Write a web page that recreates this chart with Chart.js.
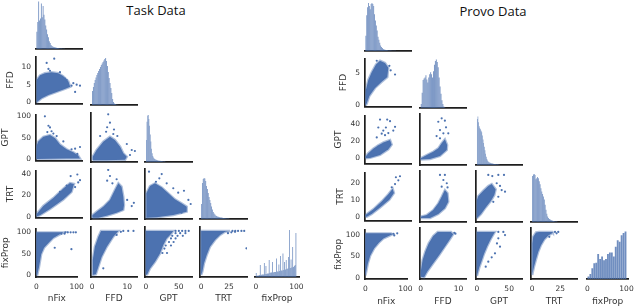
<!DOCTYPE html>
<html><head><meta charset="utf-8">
<script src="https://cdn.jsdelivr.net/npm/chart.js@4.4.1/dist/chart.umd.min.js"></script>
<style>
html,body{margin:0;padding:0;background:#fff;width:640px;height:307px;overflow:hidden;position:relative}
canvas{position:absolute}
.ttl{position:absolute;font-family:"Open Sans",sans-serif;font-size:13px;color:#111;white-space:nowrap;transform:translateX(-50%)}
</style></head><body>
<div class="ttl" style="left:156px;top:1px">Task Data</div>
<div class="ttl" style="left:493px;top:2px">Provo Data</div>
<script>
// ---------- variables & tick labels ----------
const VARS = ['nFix', 'FFD', 'GPT', 'TRT', 'fixProp'];
const ticksNFix = [0, 100];
const ticksFFDx = [0, 10];
const ticksGPTx = [0, 50];
const ticksTRTx = [0, 25];
const ticksFixPropX = [0, 100];
const taskTicksFFDy = [0, 5, 10];
const taskTicksGPTy = [0, 50, 100];
const taskTicksTRTy = [0, 20, 40];
const taskTicksFixPropY = [0, 50, 100];
const provoTicksFFDy = [0, 5];
const provoTicksGPTy = [0, 20, 40];
const provoTicksTRTy = [0, 10, 20];
const provoTicksFixPropY = [0, 50, 100];

// ---------- Task data: diagonal histograms (bin centre, height) ----------
const taskHistNFixX = [1,3,5,7,9,11,13,15,17,19,21,23,25,27,29,31,33,35,37,39,41,43,45,47,49,51,53,55,57,59,61,63];
const taskHistNFixY = [35,55,97,58,62,93,65,88,70,60,48,40,30,24,16,12,8,6,5,4,3.5,3,2.5,2,1.8,1.5,1.2,1,0.8,0.6,0.5,0.4];
const taskHistFFDX = [0.125,0.375,0.625,0.875,1.125,1.375,1.625,1.875,2.125,2.375,2.625,2.875,3.125,3.375,3.625,3.875,4.125,4.375,4.625,4.875,5.125,5.375,5.625,5.875,6.125,6.375,6.625,6.875,7.125,7.375];
const taskHistFFDY = [28,36,44,50,55,60,64,68,72,76,80,83,86,89,92,94,88,78,66,54,44,34,24,12,6,3,2,1,0.6,0.3];
const taskHistGPTX = [0.5,1.5,2.5,3.5,4.5,5.5,6.5,7.5,8.5,9.5,10.5,11.5,12.5,13.5,14.5,15.5,16.5,17.5,18.5,19.5,20.5,21.5,22.5,23.5,24.5,25.5,26.5,27.5,28.5,29.5];
const taskHistGPTY = [45,82,95,96,88,74,56,42,27,18,12,9,7,6,5,4.5,4,3.5,3,2.8,2.5,2.3,2,1.8,1.6,1.4,1.2,1,0.8,0.6];
const taskHistTRTX = [0.375,1.125,1.875,2.625,3.375,4.125,4.875,5.625,6.375,7.125,7.875,8.625,9.375,10.125,10.875,11.625,12.375,13.125,13.875,14.625,15.375,16.125,16.875,17.625,18.375,19.125,19.875,20.625,21.375,22.125,22.875,23.625,24.375,25.125];
const taskHistTRTY = [30,72,80,82,81,76,66,60,52,44,38,32,25,19,14,11,9,7,6,5,4.5,4,3.6,3.2,2.8,2.4,2,1.8,1.6,1.4,1.2,1,0.8,0.6];
const taskHistFixPropX = [1,3,5,7,9,11,13,15,17,19,21,23,25,27,29,31,33,35,37,39,41,43,45,47,49,51,53,55,57,59,61,63,65,67,69,71,73,75,77,79,81,83,85,87,89,91,93,95,97,99];
const taskHistFixPropY = [8,2,3,3,4,24,4,5,5,5,28,6,22,6,7,7,34,8,9,9,30,9,10,10,10,37,11,11,25,12,42,13,13,47,14,30,15,34,16,17,40,94,18,35,19,60,20,22,24,88];

// ---------- Task data: scatter clouds (outline of dense cloud) + sparse points ----------
const taskCloudFFDvNFix = [[0,0],[0.5,6.3],[8,7.6],[19,8.2],[34,8.5],[49,8.2],[60,7.4],[72,5.9],[76,4.4],[64,3.8],[45.5,2.95],[27,2.1],[12,1.2],[2,0.2],[0,0]];
const taskOutFFDvNFix = [[40,12.3],[23,11.1],[27,9.4],[30.5,8.9],[53,8.5],[68,6.3],[79,4.7],[90.5,5],[98,4.7],[87,2.95],[83,5.4],[64,6.7]];
const taskCloudGPTvNFix = [[0,0],[0,30],[4,41],[15.5,52],[30.5,56],[42,48.5],[53,34],[68,22.7],[83,15.5],[94,8],[98,1],[68,1],[30,0.5],[0,0]];
const taskOutGPTvNFix = [[19,100],[27,78],[30.5,74],[34,65],[38,59.6],[24.5,63],[79,22.7],[87,24],[98,28],[92,11.7],[72,11.7],[83,6.6],[60.5,41],[45.5,53.6]];
const taskCloudGPTvFFD = [[0.2,0],[0.2,8],[1.3,22.7],[3.2,41],[5.1,52],[6.5,44.8],[8,30],[8.9,15.5],[9.9,8],[9.4,1],[4.2,0],[0.2,0]];
const taskOutGPTvFFD = [[4.6,101.5],[5.1,83],[4.3,73],[4,63],[6.25,68],[6.05,58],[9.9,36],[11.3,22.7],[12.2,20.5],[10.8,11.7],[7.2,53.6],[2.3,53.6]];
const taskCloudTRTvNFix = [[0,0],[0.5,2.5],[15.4,10],[38,17.5],[60.5,26.4],[75.5,31.7],[84.5,30.8],[79,23.3],[60.5,16],[30.5,7.1],[8,1.2],[0,0]];
const taskOutTRTvNFix = [[77,38.2],[92,39.7],[98,34.4],[94,32.2],[68,29.3],[53,23.3],[87,27.8]];
const taskCloudTRTvFFD = [[0.1,0.2],[0.1,2.5],[1.3,5.6],[3.2,10],[5.1,16],[6.5,24.8],[7.5,30.8],[8.4,27.8],[8.9,18.9],[9.1,11.5],[8.9,7.1],[7,4.7],[4.2,2],[1.8,0.3],[0.1,0.2]];
const taskOutTRTvFFD = [[4.6,42.6],[5.1,37.3],[4.3,33.1],[5.8,30.8],[10,16],[11.3,10.6],[11.9,13.5],[7,34.4]];
const taskCloudTRTvGPT = [[1,0.3],[0.5,22],[6.1,28.3],[13.7,30.8],[23.9,27.2],[34,21.9],[44,16.6],[54,13],[62,10],[62,5.6],[41.5,2.7],[16.3,0.6],[1,0.3]];
const taskOutTRTvGPT = [[4.6,41.1],[23.9,39],[20.3,35.2],[15.2,32.2],[41.5,26.4],[49,22.5],[57.8,24.2],[64.5,16],[68,12.4],[54,4.7],[31.5,30.8]];
const taskCloudFixPropvNFix = [[0,0],[0,100],[56.8,100],[68,100],[57,94.7],[42,87],[30.5,75.6],[19,64],[12,49],[6.5,19],[2,0],[0,0]];
const taskOutFixPropvNFix = [[72,100],[78,100],[85,100],[92,100],[98,100],[45.5,64],[87,60.7],[62,97],[70,97]];
const taskCloudFixPropvFFD = [[0,0],[0.2,34],[0.8,64],[1.8,87],[2.55,100],[7.5,100],[6.05,87],[4.2,64],[2.75,41.5],[1.8,19],[1.1,2],[0,0]];
const taskOutFixPropvFFD = [[8.9,100],[10.3,100],[11.8,100],[3.2,15.3],[7,91],[8.2,98]];
const taskCloudFixPropvGPT = [[0,0],[0,100],[41.5,100],[39,94.7],[31.5,83],[26.3,68],[21.3,49],[13.7,30],[6.1,15],[2,2],[0,0]];
const taskOutFixPropvGPT = [[45,100],[50,100],[55,100],[60,100],[65,100],[45,95],[52,95],[60,95],[40,89],[48,89],[56,89],[38,83],[45,83],[35,75],[42,75],[30,67],[38,67],[28,60],[25,50],[32,50]];
const taskCloudFixPropvTRT = [[0,0],[0,100],[25.8,100],[21.4,98],[16.9,91],[12.4,79.5],[7.9,64],[5,45.5],[2.6,26.6],[1.1,7.5],[0,0]];
const taskOutFixPropvTRT = [[28,100],[30.5,100],[33,100],[36,100],[38.5,100],[40.5,60.7],[30.3,98],[24,95],[27,97]];

// ---------- Provo data: diagonal histograms ----------
const provoHistNFixX = [1,3,5,7,9,11,13,15,17,19,21,23,25,27,29,31,33,35,37,39,41,43,45,47,49,51,53,55,57,59,61,63,65,67,69];
const provoHistNFixY = [30,70,86,94,88,82,92,94,92,88,72,60,50,40,28,22,16,11,8,6,4,3,2.5,2,2,1.5,1.2,1,1,0.8,0.6,0.5,0.4,0.3,0.3];
const provoHistFFDX = [0.125,0.375,0.625,0.875,1.125,1.375,1.625,1.875,2.125,2.375,2.625,2.875,3.125,3.375,3.625,3.875,4.125,4.375,4.625,4.875,5.125,5.375,5.625,5.875,6.125,6.375];
const provoHistFFDY = [8,30,55,58,60,64,56,50,60,66,70,66,60,72,85,92,95,90,80,60,42,28,15,8,3,1];
const provoHistGPTX = [0.5,1.5,2.5,3.5,4.5,5.5,6.5,7.5,8.5,9.5,10.5,11.5,12.5,13.5,14.5,15.5,16.5,17.5,18.5,19.5,20.5,21.5,22.5,23.5,24.5,25.5,26.5,27.5,28.5,29.5,30.5,31.5,32.5,33.5,34.5];
const provoHistGPTY = [90,95,84,76,72,70,67,64,58,50,43,36,29,22,16,12,9,7,5.5,4.8,4.2,3.7,3.2,3,2.7,2.4,2.2,2,1.8,1.6,1.5,1.4,1.3,1.2,1];
const provoHistTRTX = [0.375,1.125,1.875,2.625,3.375,4.125,4.875,5.625,6.375,7.125,7.875,8.625,9.375,10.125,10.875,11.625,12.375,13.125,13.875,14.625,15.375,16.125,16.875,17.625,18.375,19.125,19.875,20.625,21.375,22.125];
const provoHistTRTY = [90,93,94,92,84,86,88,86,80,74,66,60,55,50,44,34,24,16,11,8,6,5,4,3,2.5,2,1.5,1.2,1,0.8];
const provoHistFixPropX = [2.5,7.5,12.5,17.5,22.5,27.5,32.5,37.5,42.5,47.5,52.5,57.5,62.5,67.5,72.5,77.5,82.5,87.5,92.5,97.5];
const provoHistFixPropY = [5,10,21,31,32,49,39,44,37,39,49,52,52,44,63,76,73,86,90,93];

// ---------- Provo data: scatter clouds + sparse points ----------
const provoCloudFFDvNFix = [[0,0],[0,1],[1.3,2.5],[6.6,4],[14.4,5.2],[24.3,6.4],[33.5,7],[45,6.65],[52.6,5.9],[50.3,4.45],[37.4,3.7],[22,2.75],[9,1.5],[3,0.3],[0,0]];
const provoOutFFDvNFix = [[26,7],[55,6.2],[68,4.85],[47,5.4],[58,5.5]];
const provoCloudGPTvNFix = [[0,0],[0,2],[6.6,6.1],[18,11.2],[29.6,15.2],[42.7,18.9],[56.5,21.4],[60.4,16],[52.6,10.5],[33.5,3.9],[10.5,0.5],[0,0]];
const provoOutGPTvNFix = [[29.6,36],[33.5,45.3],[50,45.3],[56.5,43.4],[41,32.4],[64,32.4],[45,27],[52.6,29.5],[37.4,28.8],[68,36.8],[26,24.4],[47,36]];
const provoCloudGPTvFFD = [[0,0],[0,1.5],[1.6,5],[3.3,8.6],[4.65,12.3],[5.55,17.8],[6.4,22.2],[7,16],[6.9,10.5],[5.1,3.9],[2.45,0.5],[0,0]];
const provoOutGPTvFFD = [[4.65,41.5],[5.55,45.3],[6.4,42.7],[5.1,32.4],[6,28.8],[4.2,25.8],[7.3,28.8],[5.1,23.3],[6.7,35.4]];
const provoCloudTRTvNFix = [[0,0],[0,1],[18,4.4],[37.4,9],[52.6,13.3],[62.6,16.5],[65.6,14],[54.9,10],[33.5,5.4],[14.4,1.65],[3,0],[0,0]];
const provoOutTRTvNFix = [[68,19.3],[75.6,21.5],[79.4,23.9],[70,23.3],[60.4,17.4]];
const provoCloudTRTvFFD = [[0,0],[0.1,0.8],[1.6,1.65],[3.3,4.4],[4.65,8.15],[5.55,11.8],[6.4,15.5],[7.1,13.7],[7.3,9],[6.4,5.4],[4.65,2.2],[2.45,0],[0,0]];
const provoOutTRTvFFD = [[5.1,23.9],[6.4,23.9],[6,21.1],[6.9,19.3],[5.55,17.4],[7.1,17]];
const provoCloudTRTvGPT = [[0,0],[0,10],[2.1,12.2],[9.9,15.2],[17.6,17.8],[22.9,18.9],[29.1,15.9],[27,12.8],[21.8,9.6],[13.6,5.9],[6.3,2.2],[0.2,0],[0,0]];
const provoOutTRTvGPT = [[17.6,23.9],[23.8,23.3],[33.2,23.9],[42,23.9],[30.7,19.3],[38.4,15.5],[43.6,14.6],[33.2,11.8],[25.4,9],[35.8,17.8]];
const provoCloudFixPropvNFix = [[0,5],[0,104],[64,104],[68,102],[56.5,97],[45,92],[33.5,82],[22,69],[12,51.6],[6,32.7],[2,13.6],[0,5]];
const provoOutFixPropvNFix = [[79.4,104],[72,99],[70,103]];
const provoCloudFixPropvFFD = [[0,2],[0,13.6],[0.5,40],[1.2,59],[2.1,78],[3.3,95],[4.5,104],[8,104],[8.6,99],[7.6,85.7],[6.4,70.5],[4.9,51.6],[3.3,32.7],[1.7,13.6],[0.9,0.9],[0,2]];
const provoOutFixPropvFFD = [[8.9,102],[9.2,100]];
const provoCloudFixPropvGPT = [[0,4],[0,104],[28,104],[26,99.4],[20.7,85.7],[15.6,70.5],[10.9,53.9],[7.4,38.6],[3.7,23.6],[1.1,10],[0,4]];
const provoOutFixPropvGPT = [[33.2,104],[41,104],[43.6,97],[31.1,78],[35.8,70.5],[28,55.5],[22.9,46.4],[33.2,89.6],[17.6,36.4],[13.6,25]];
const provoCloudFixPropvTRT = [[0.2,6],[0.2,78],[1,93],[3.5,103],[6.1,104],[18,104],[18.6,102],[14.4,96],[10.9,87],[7.9,74],[5.5,59],[3.5,41.8],[1.7,25],[0.5,11.4],[0.2,6]];
const provoOutFixPropvTRT = [[20.4,104],[23.3,104],[21.8,101],[15.3,93]];

// ---------- layout / style ----------
const FONT = 'DejaVu Sans';
Chart.defaults.font.family = FONT;
const BLUE = '#4c72b0', FRINGE = 'rgba(76,114,176,0.45)', HIST = 'rgba(76,114,176,0.8)', SPINE = '#1e1e1e', TXT = '#333333';

const GRIDS = [
  {
    L: [36, 91, 145, 200, 255], W: [46, 46, 47, 47, 47],
    T: [0, 55, 113, 169, 227], H: [49, 50, 49, 50, 50],
    yw: [0, 31, 36, 31, 36], xh: 27,
    xr: {nFix: [-1, 102.5], FFD: [-0.3, 12.8], GPT: [-1.5, 70], TRT: [-1, 41], fixProp: [-2, 107]},
    yr: {FFD: [-0.3, 12.9], GPT: [-3.75, 104.4], TRT: [-0.9, 43.5], fixProp: [-4.5, 109]},
    xt: {nFix: ticksNFix, FFD: ticksFFDx, GPT: ticksGPTx, TRT: ticksTRTx, fixProp: ticksFixPropX},
    yt: {FFD: taskTicksFFDy, GPT: taskTicksGPTy, TRT: taskTicksTRTy, fixProp: taskTicksFixPropY},
    hist: {nFix: [taskHistNFixX, taskHistNFixY], FFD: [taskHistFFDX, taskHistFFDY], GPT: [taskHistGPTX, taskHistGPTY],
           TRT: [taskHistTRTX, taskHistTRTY], fixProp: [taskHistFixPropX, taskHistFixPropY]},
    clouds: {
      'FFD|nFix': [taskCloudFFDvNFix, taskOutFFDvNFix],
      'GPT|nFix': [taskCloudGPTvNFix, taskOutGPTvNFix], 'GPT|FFD': [taskCloudGPTvFFD, taskOutGPTvFFD],
      'TRT|nFix': [taskCloudTRTvNFix, taskOutTRTvNFix], 'TRT|FFD': [taskCloudTRTvFFD, taskOutTRTvFFD], 'TRT|GPT': [taskCloudTRTvGPT, taskOutTRTvGPT],
      'fixProp|nFix': [taskCloudFixPropvNFix, taskOutFixPropvNFix], 'fixProp|FFD': [taskCloudFixPropvFFD, taskOutFixPropvFFD],
      'fixProp|GPT': [taskCloudFixPropvGPT, taskOutFixPropvGPT], 'fixProp|TRT': [taskCloudFixPropvTRT, taskOutFixPropvTRT]
    }
  },
  {
    L: [365, 420, 476, 531, 587], W: [46, 46, 46, 46, 45],
    T: [0, 57, 114, 171, 228], H: [51, 51, 51, 51, 51],
    yw: [0, 27, 32, 30, 32], xh: 28,
    xr: {nFix: [-1, 104.7], FFD: [-0.2, 12], GPT: [-1.5, 70], TRT: [-1, 40], fixProp: [-1, 104.6]},
    yr: {FFD: [-0.15, 7.35], GPT: [-6, 50], TRT: [-2.2, 26.1], fixProp: [-3, 113]},
    xt: {nFix: ticksNFix, FFD: ticksFFDx, GPT: ticksGPTx, TRT: ticksTRTx, fixProp: ticksFixPropX},
    yt: {FFD: provoTicksFFDy, GPT: provoTicksGPTy, TRT: provoTicksTRTy, fixProp: provoTicksFixPropY},
    hist: {nFix: [provoHistNFixX, provoHistNFixY], FFD: [provoHistFFDX, provoHistFFDY], GPT: [provoHistGPTX, provoHistGPTY],
           TRT: [provoHistTRTX, provoHistTRTY], fixProp: [provoHistFixPropX, provoHistFixPropY]},
    clouds: {
      'FFD|nFix': [provoCloudFFDvNFix, provoOutFFDvNFix],
      'GPT|nFix': [provoCloudGPTvNFix, provoOutGPTvNFix], 'GPT|FFD': [provoCloudGPTvFFD, provoOutGPTvFFD],
      'TRT|nFix': [provoCloudTRTvNFix, provoOutTRTvNFix], 'TRT|FFD': [provoCloudTRTvFFD, provoOutTRTvFFD], 'TRT|GPT': [provoCloudTRTvGPT, provoOutTRTvGPT],
      'fixProp|nFix': [provoCloudFixPropvNFix, provoOutFixPropvNFix], 'fixProp|FFD': [provoCloudFixPropvFFD, provoOutFixPropvFFD],
      'fixProp|GPT': [provoCloudFixPropvGPT, provoOutFixPropvGPT], 'fixProp|TRT': [provoCloudFixPropvTRT, provoOutFixPropvTRT]
    }
  }
];

const toXY = arr => arr.map(p => ({x: p[0], y: p[1]}));

function makePanel(g, r, c) {
  const pad = 8;
  const L = g.L[c], T = g.T[r], W = g.W[c], H = g.H[r];
  const yw = (c === 0 && r > 0) ? g.yw[r] : 0;
  const xh = (r === 4) ? g.xh : 0;
  const cw = W + yw + 2 * pad, ch = H + xh + 2 * pad;
  const cv = document.createElement('canvas');
  cv.width = cw; cv.height = ch;
  cv.style.left = (L - yw - pad) + 'px';
  cv.style.top = (T - pad) + 'px';
  cv.style.width = cw + 'px'; cv.style.height = ch + 'px';
  document.body.appendChild(cv);

  const xv = VARS[c], yv = VARS[r];
  const diag = r === c;
  const xs = {
    type: 'linear', min: g.xr[xv][0], max: g.xr[xv][1], offset: false,
    grid: {display: false, drawTicks: false},
    border: {display: true, color: SPINE, width: 1.7},
    ticks: {display: r === 4, padding: 6, font: {size: 7.5}, color: TXT, maxRotation: 0, autoSkip: false},
    title: {display: r === 4, text: xv, padding: 0, font: {size: 9}, color: TXT},
    afterBuildTicks: s => { s.ticks = g.xt[xv].map(v => ({value: v})); },
    afterFit: s => { s.height = xh; }
  };
  let ys, datasets, type;
  if (diag) {
    const [bx, by] = g.hist[xv];
    type = 'bar';
    ys = {display: false, min: 0, max: 100};
    datasets = [{
      data: bx.map((x, i) => ({x: x, y: by[i]})),
      backgroundColor: HIST, borderWidth: 0, barPercentage: 0.94, categoryPercentage: 1
    }];
  } else {
    const [poly, out] = g.clouds[yv + '|' + xv];
    type = 'scatter';
    ys = {
      type: 'linear', min: g.yr[yv][0], max: g.yr[yv][1],
      grid: {display: false, drawTicks: false},
      border: {display: true, color: SPINE, width: 1.7},
      ticks: {display: c === 0, padding: 5, font: {size: 7.5}, color: TXT},
      title: {display: c === 0, text: yv, padding: 0, font: {size: 9}, color: TXT},
      afterBuildTicks: s => { s.ticks = g.yt[yv].map(v => ({value: v})); },
      afterFit: s => { s.width = yw; }
    };
    datasets = [
      {type: 'line', data: toXY(poly), fill: 'shape', backgroundColor: BLUE, borderColor: FRINGE,
       borderWidth: 2.4, pointRadius: 0, tension: 0},
      {type: 'scatter', data: toXY(out), pointRadius: 1.1, backgroundColor: BLUE, borderWidth: 0, showLine: false}
    ];
  }
  new Chart(cv, {
    type: type,
    data: {datasets: datasets},
    options: {
      responsive: false, animation: false, devicePixelRatio: 1, events: [],
      layout: {padding: pad, autoPadding: false},
      plugins: {legend: {display: false}, tooltip: {enabled: false}},
      scales: {x: xs, y: ys}
    }
  });
}

GRIDS.forEach(g => {
  for (let r = 0; r < 5; r++) for (let c = 0; c <= r; c++) makePanel(g, r, c);
});
</script>
</body></html>
